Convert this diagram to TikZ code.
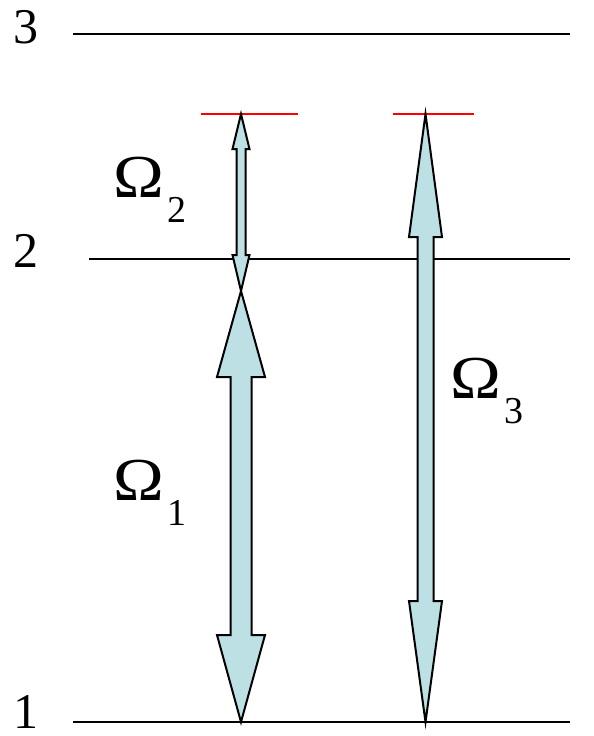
\documentclass[tikz,border=0pt]{standalone}
\usepackage{fontspec}
\setmainfont{Liberation Serif}
\definecolor{arrowfill}{RGB}{188,224,228}
\tikzset{
  level/.style={line width=1.5pt, black},
  virtual/.style={line width=1.5pt, red},
  fatarrow/.style={draw=black, line width=2pt, fill=arrowfill, line join=miter},
  lvllabel/.style={anchor=base west, inner sep=0pt, text depth=0pt, font=\fontsize{50}{60}\selectfont},
  omlabel/.style={anchor=base west, inner sep=0pt, text depth=0pt}
}
\newcommand\omtext[1]{\scalebox{1.12}[1]{\fontsize{61}{64}\selectfont Ω}\kern4pt\raisebox{-25pt}{\fontsize{38}{40}\selectfont #1}}
% cx, top tip, top base, bottom base, bottom tip, head half width, shaft half width
\newcommand\dblfatarrow[7]{%
  \draw[fatarrow] (#1,#2) -- (#1+#6,#3) -- (#1+#7,#3) -- (#1+#7,#4) -- (#1+#6,#4)
    -- (#1,#5) -- (#1-#6,#4) -- (#1-#7,#4) -- (#1-#7,#3) -- (#1-#6,#3) -- cycle;}
\begin{document}
\begin{tikzpicture}[x=1pt,y=-1pt]
\useasboundingbox (0,0) rectangle (594,736);
% levels
\coordinate (l3a) at (73,34);  \coordinate (l3b) at (570,34);
\coordinate (l2a) at (89,259); \coordinate (l2b) at (570,259);
\coordinate (l1a) at (73,722); \coordinate (l1b) at (570,722);
\draw[level] (l3a) -- (l3b);
\draw[level] (l2a) -- (l2b);
\draw[level] (l1a) -- (l1b);
% virtual levels
\coordinate (v1a) at (201,114); \coordinate (v1b) at (298,114);
\coordinate (v2a) at (393,114); \coordinate (v2b) at (474,114);
\draw[virtual] (v1a) -- (v1b);
\draw[virtual] (v2a) -- (v2b);
% level labels
\node[lvllabel] (n3) at (13,43) {3};
\node[lvllabel] (n2) at (13,267) {2};
\node[lvllabel] (n1) at (13,728) {1};
% arrows
\dblfatarrow{241}{114}{149}{255}{291}{8.5}{4.5}
\dblfatarrow{241}{291}{377}{635}{722}{24}{10.5}
\dblfatarrow{425.5}{114}{237}{601}{722}{16.5}{8}
% Rabi labels
\node[omlabel] (om2) at (113,197) {\omtext{2}};
\node[omlabel] (om1) at (113,500) {\omtext{1}};
\node[omlabel] (om3) at (450,398) {\omtext{3}};
\end{tikzpicture}
\end{document}
